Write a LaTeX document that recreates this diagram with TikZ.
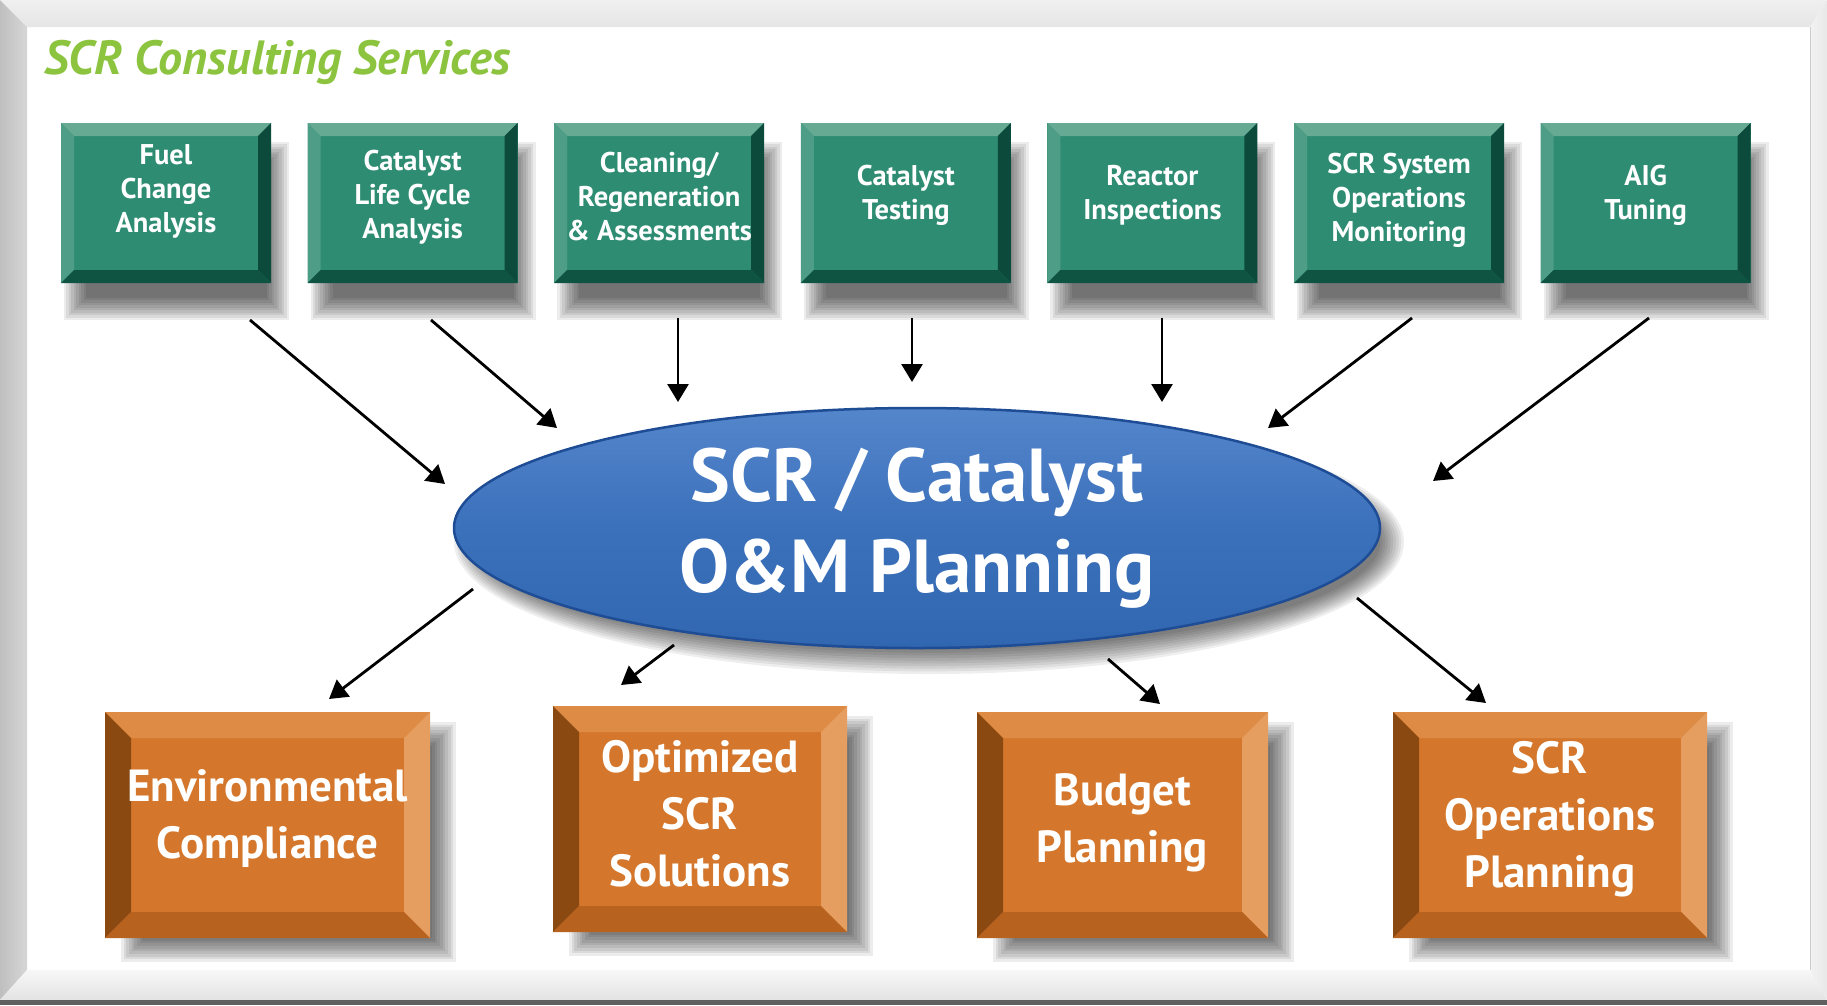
\documentclass[tikz,border=0pt]{standalone}
\usepackage{fontspec}
\setmainfont{PT Sans}
\usetikzlibrary{arrows.meta,shapes.geometric,calc}
\definecolor{gface}{HTML}{2E8C72}
\definecolor{gtop}{HTML}{66AA94}
\definecolor{gleft}{HTML}{4E9D86}
\definecolor{gright}{HTML}{0C4A3B}
\definecolor{gbot}{HTML}{0F5443}
\definecolor{oface}{HTML}{D4772C}
\definecolor{otop}{HTML}{DE8B45}
\definecolor{oleft}{HTML}{8B4912}
\definecolor{oright}{HTML}{E69E60}
\definecolor{obot}{HTML}{B8621F}
\definecolor{etop}{HTML}{5486CB}
\definecolor{emid}{HTML}{3B70BB}
\definecolor{ebot}{HTML}{3166B0}
\definecolor{eedge}{HTML}{1E4C95}
\definecolor{titlegreen}{HTML}{8CC43F}
\newcommand{\rectshadow}[5]{%
  \foreach \i in {0,...,9}{%
    \pgfmathsetmacro{\ee}{-#5+\i*#5/4.5}%
    \fill[black,opacity=0.075] ({#1-\ee},{#2-\ee}) rectangle ({#3+\ee},{#4+\ee});
  }}
\tikzset{
  bevelled/.style n args={5}{path picture={
    \coordinate (pNW) at (path picture bounding box.north west);
    \coordinate (pNE) at (path picture bounding box.north east);
    \coordinate (pSW) at (path picture bounding box.south west);
    \coordinate (pSE) at (path picture bounding box.south east);
    \fill[#2] (pNW) -- (pNE) -- ([shift={(-#1,-#1)}]pNE) -- ([shift={(#1,-#1)}]pNW) -- cycle;
    \fill[#3] (pNW) -- ([shift={(#1,-#1)}]pNW) -- ([shift={(#1,#1)}]pSW) -- (pSW) -- cycle;
    \fill[#4] (pNE) -- (pSE) -- ([shift={(-#1,#1)}]pSE) -- ([shift={(-#1,-#1)}]pNE) -- cycle;
    \fill[#5] (pSW) -- (pSE) -- ([shift={(-#1,#1)}]pSE) -- ([shift={(#1,#1)}]pSW) -- cycle;
  }},
  gbox/.style={rectangle, inner sep=0pt, minimum width=210pt, minimum height=160pt,
    fill=gface, bevelled={13pt}{gtop}{gleft}{gright}{gbot}},
  obox/.style={rectangle, inner sep=0pt, minimum height=226pt,
    fill=oface, bevelled={26pt}{otop}{oleft}{oright}{obot}},
  gtext/.style={text=white, align=center, inner sep=0pt, font=\fontsize{28.5}{34}\selectfont\bfseries},
  otext/.style={text=white, align=center, inner sep=0pt, font=\fontsize{45}{57}\selectfont\bfseries},
  conn/.style={draw=black, line width=2.8pt, -{Triangle[length=18pt,width=21pt]}},
}
\begin{document}
\begin{tikzpicture}[x=1pt,y=-1pt]
\useasboundingbox (0,0) rectangle (1827,1005);
% frame
\fill[white] (0,0) rectangle (1827,1005);
\shade[top color=gray!12, bottom color=gray!20] (0,0) -- (1827,0) -- (1810,27) -- (27,27) -- cycle;
\shade[left color=gray!50, right color=gray!32] (0,0) -- (27,27) -- (27,970) -- (0,1000) -- cycle;
\shade[top color=gray!6, bottom color=gray!22] (0,1000) -- (27,970) -- (1810,970) -- (1827,1000) -- cycle;
\shade[left color=gray!10, right color=gray!18] (1827,0) -- (1810,27) -- (1810,970) -- (1827,1000) -- cycle;
\fill[gray!75!black] (0,1000) rectangle (1827,1005);
\draw[gray!40, line width=1pt] (1810,27) -- (1810,970);
% title
\node[anchor=base west, inner sep=0pt, text=titlegreen, font=\fontsize{48}{54}\selectfont\bfseries\itshape] (title) at (44,74) {SCR Consulting Services};
% green box shadows
\foreach \cx in {166,412.6,659.2,905.8,1152.4,1399,1645.6}{
  \rectshadow{\cx-105+14}{123+30}{\cx+105+7}{283+26}{11}
}
% orange box shadows
\rectshadow{105+28}{712+22}{430+14}{938+12}{12}
\rectshadow{553+28}{706+22}{847+14}{932+12}{12}
\rectshadow{977+28}{712+22}{1268+14}{938+12}{12}
\rectshadow{1393+28}{712+22}{1707+14}{938+12}{12}
% ellipse shadow
\foreach \i in {0,...,9}{
  \pgfmathsetmacro{\ee}{-12+\i*12/4.5}
  \fill[black,opacity=0.065] (929,542) ellipse [x radius={463pt+\ee pt}, y radius={120pt+\ee pt}];
}
% green boxes
\node[gbox] (g1) at (166,203) {};
\node[gbox] (g2) at (412.6,203) {};
\node[gbox] (g3) at (659.2,203) {};
\node[gbox] (g4) at (905.8,203) {};
\node[gbox] (g5) at (1152.4,203) {};
\node[gbox] (g6) at (1399,203) {};
\node[gbox] (g7) at (1645.6,203) {};
\node[gtext] (t1) at (166,191) {Fuel\\Change\\Analysis};
\node[gtext] (t2) at (412.6,197) {Catalyst\\Life Cycle\\Analysis};
\node[gtext] (t3) at (659.2,197) {Cleaning/\\Regeneration\\\& Assessments};
\node[gtext] (t4) at (905.8,195) {Catalyst\\Testing};
\node[gtext] (t5) at (1152.4,195) {Reactor\\Inspections};
\node[gtext] (t6) at (1399,200) {SCR System\\Operations\\Monitoring};
\node[gtext] (t7) at (1645.6,195) {AIG\\Tuning};
% ellipse
\node[ellipse, minimum width=926pt, minimum height=240pt, inner sep=0pt,
  top color=etop, bottom color=ebot, middle color=emid, draw=eedge, line width=2.5pt,
  text=white, align=center, font=\fontsize{75}{91}\selectfont\bfseries] (plan) at (917,528)
  {SCR / Catalyst\\O\&M Planning};
% orange boxes
\node[obox, minimum width=325pt] (o1) at (267.5,825) {};
\node[obox, minimum width=294pt] (o2) at (700,819) {};
\node[obox, minimum width=291pt] (o3) at (1122.5,825) {};
\node[obox, minimum width=314pt] (o4) at (1550,825) {};
\node[otext] (u1) at (267.5,818) {Environmental\\Compliance};
\node[otext] (u2) at (700,814) {Optimized\\SCR\\Solutions};
\node[otext] (u3) at (1122.5,823) {Budget\\Planning};
\node[otext] (u4) at (1550,819) {SCR\\Operations\\Planning};
% arrow end points
\coordinate (a1s) at (250,320);  \coordinate (a1e) at (445,484);
\coordinate (a2s) at (431,320);  \coordinate (a2e) at (557,428);
\coordinate (a3s) at (678,318);  \coordinate (a3e) at (678,402);
\coordinate (a4s) at (912,318);  \coordinate (a4e) at (912,382);
\coordinate (a5s) at (1162,318); \coordinate (a5e) at (1162,402);
\coordinate (a6s) at (1412,318); \coordinate (a6e) at (1268,428);
\coordinate (a7s) at (1649,318); \coordinate (a7e) at (1433,481);
\coordinate (b1s) at (473,589);  \coordinate (b1e) at (329,699);
\coordinate (b2s) at (674,645);  \coordinate (b2e) at (621,685);
\coordinate (b3s) at (1108,659); \coordinate (b3e) at (1160,704);
\coordinate (b4s) at (1357,598); \coordinate (b4e) at (1486,703);
\foreach \a in {a1,a2,a3,a4,a5,a6,a7,b1,b2,b3,b4}{
  \draw[conn] (\a s) -- (\a e);
}
\end{tikzpicture}
\end{document}
